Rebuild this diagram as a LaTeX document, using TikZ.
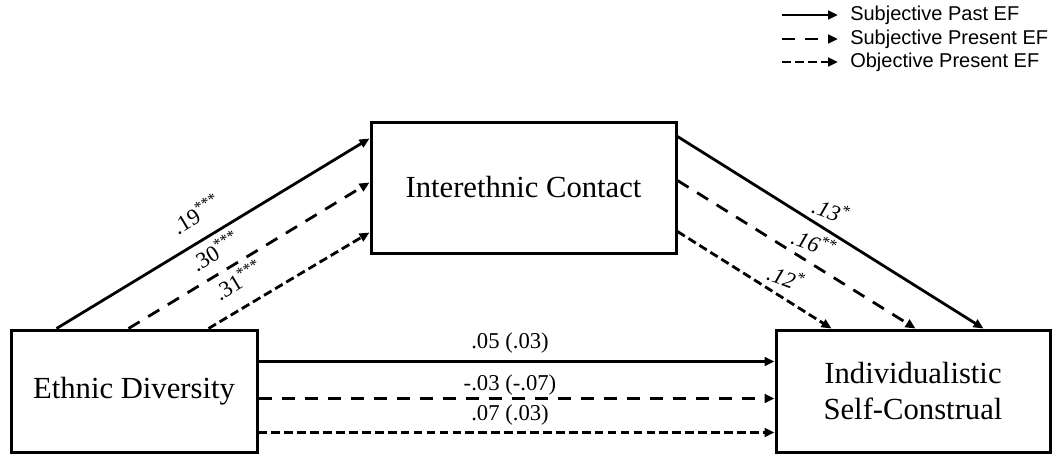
\documentclass[tikz,border=0pt]{standalone}
\usepackage{fontspec}
\setmainfont{Liberation Serif}
\newfontfamily\legfont{Liberation Sans}
\usetikzlibrary{arrows.meta,calc}
\begin{document}
\begin{tikzpicture}[x=0.75pt,y=-0.75pt,
  box/.style={draw, line width=2.25pt, inner sep=0pt, align=center,
    font=\fontsize{23}{27}\selectfont},
  conn/.style={line width=2.1pt, -{Triangle[length=7.5pt,width=6.5pt]}},
  pastef/.style={conn},
  subpres/.style={conn, dash pattern=on 9.75pt off 7.5pt},
  objpres/.style={conn, dash pattern=on 6.5pt off 3.2pt},
  coef/.style={font=\fontsize{17}{19}\selectfont, inner sep=0pt},
  icoef/.style={coef, rotate=-20, font=\fontsize{17}{19}\selectfont\itshape},
  legtext/.style={anchor=west, inner sep=0pt, font=\legfont\fontsize{15}{18}\selectfont}
]
\useasboundingbox (0,0) rectangle (1052,453);

% boxes
\node[box, minimum width=184.5pt, minimum height=91.5pt] (ED) at (134,391) {Ethnic Diversity};
\node[box, minimum width=228.75pt, minimum height=98.25pt] (IC) at (523.5,187.5) {Interethnic Contact};
\node[box, minimum width=205.5pt, minimum height=91.5pt] (ISC) at (913,391) {Individualistic\\Self-Construal};

% ED -> IC
\draw[pastef]  ($(ED.north west)+(47,0)$)  -- ($(IC.north west)+(0,18)$);
\draw[subpres] ($(ED.north west)+(119,0)$) -- ($(IC.north west)+(0,62)$);
\draw[objpres] ($(ED.north west)+(199,0)$) -- ($(IC.north west)+(0,112)$);

% IC -> ISC
\draw[pastef]  ($(IC.north east)+(0,16)$)  -- ($(ISC.north west)+(209,0)$);
\draw[subpres] ($(IC.north east)+(0,60)$)  -- ($(ISC.north west)+(141,0)$);
\draw[objpres] ($(IC.north east)+(0,111)$) -- ($(ISC.north west)+(57,0)$);

% ED -> ISC
\draw[pastef]  ($(ED.north east)+(0,33)$)  -- ($(ISC.north west)+(0,33)$);
\draw[subpres] ($(ED.north east)+(0,70)$)  -- ($(ISC.north west)+(0,70)$);
\draw[objpres] ($(ED.north east)+(0,104)$) -- ($(ISC.north west)+(0,104)$);

% coefficient labels
\node[coef, rotate=31] (c1) at (196,214) {.19\textsuperscript{***}};
\node[coef, rotate=31] (c2) at (215,251) {.30\textsuperscript{***}};
\node[coef, rotate=31] (c3) at (238,280) {.31\textsuperscript{***}};
\node[icoef] (c4) at (831,210) {.13\textsuperscript{*}};
\node[icoef] (c5) at (814,243) {.16\textsuperscript{**}};
\node[icoef] (c6) at (786,277) {.12\textsuperscript{*}};
\node[coef] (c7) at (510,343) {.05 (.03)};
\node[coef] (c8) at (510,385) {-.03 (-.07)};
\node[coef] (c9) at (510,415) {.07 (.03)};

% legend
\coordinate (la1) at (782,15);  \coordinate (lb1) at (838,15);
\coordinate (la2) at (782,39);  \coordinate (lb2) at (838,39);
\coordinate (la3) at (782,62);  \coordinate (lb3) at (838,62);
\draw[pastef]  (la1) -- (lb1);
\draw[subpres] (la2) -- (lb2);
\draw[objpres] (la3) -- (lb3);
\node[legtext] (t1) at (850,15) {Subjective Past EF};
\node[legtext] (t2) at (850,39) {Subjective Present EF};
\node[legtext] (t3) at (850,62) {Objective Present EF};
\end{tikzpicture}
\end{document}
